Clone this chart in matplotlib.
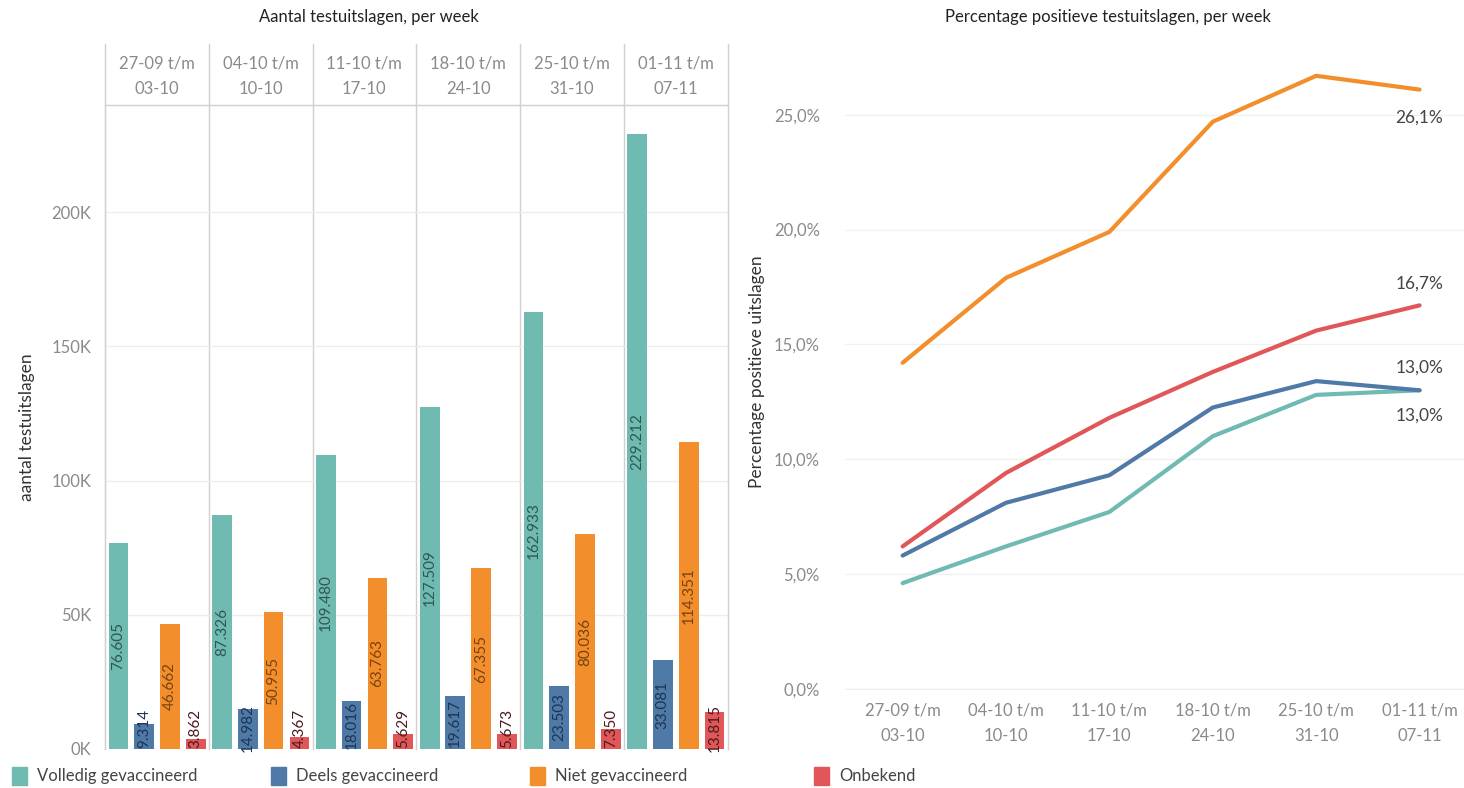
import numpy as np
import matplotlib.pyplot as plt
from matplotlib.patches import Rectangle

plt.rcParams['font.family'] = ['Lato', 'DejaVu Sans']

weeks = ['27-09 t/m\n03-10', '04-10 t/m\n10-10', '11-10 t/m\n17-10',
         '18-10 t/m\n24-10', '25-10 t/m\n31-10', '01-11 t/m\n07-11']
groups = ['Volledig gevaccineerd', 'Deels gevaccineerd', 'Niet gevaccineerd', 'Onbekend']
colors = ['#6fbab1', '#4f79a6', '#f28e2b', '#e15759']
text_colors = ['#2e5753', '#1d3553', '#7a4210', '#4a1c1c']

volledig = [76605, 87326, 109480, 127509, 162933, 229212]
deels = [9314, 14982, 18016, 19617, 23503, 33081]
niet = [46662, 50955, 63763, 67355, 80036, 114351]
onbekend = [3862, 4367, 5629, 5673, 7350, 13815]
counts = [volledig, deels, niet, onbekend]

pct_volledig = [4.6, 6.2, 7.7, 11.0, 12.8, 13.0]
pct_deels = [5.8, 8.1, 9.3, 12.25, 13.4, 13.0]
pct_niet = [14.2, 17.9, 19.9, 24.7, 26.7, 26.1]
pct_onbekend = [6.2, 9.4, 11.8, 13.8, 15.6, 16.7]
pcts = [pct_volledig, pct_deels, pct_niet, pct_onbekend]

fig = plt.figure(figsize=(14.64, 7.88), dpi=100)
tick_c = '#8a8a8a'

# ---------- staafdiagram ----------
ax = fig.add_axes([0.0717, 0.0495, 0.4253, 0.8175])
x = np.arange(len(weeks))
offsets = [-0.37, -0.125, 0.125, 0.375]
for k in range(4):
    ax.bar(x + offsets[k], counts[k], width=0.19, color=colors[k], zorder=3)
    for i, v in enumerate(counts[k]):
        s = f'{v:,}'.replace(',', '.')
        ax.text(x[i] + offsets[k], max(v / 2, 7800), s, rotation=90, ha='center',
                va='center', fontsize=11, color=text_colors[k], zorder=4)

ax.set_xlim(-0.5, 5.5)
ax.set_ylim(0, 240000)
ax.set_yticks([0, 50000, 100000, 150000, 200000])
ax.set_yticklabels(['0K', '50K', '100K', '150K', '200K'])
ax.tick_params(axis='y', length=0, colors=tick_c, labelsize=12, pad=10)
ax.set_xticks([])
ax.grid(axis='y', color='#ededed', lw=1, zorder=0)
for s in ['top', 'right', 'bottom']:
    ax.spines[s].set_visible(False)
ax.spines['left'].set_color('#d0d0d0')
ax.set_ylabel('aantal testuitslagen', fontsize=12.5, color='#333333', labelpad=12)

# weekkoppen en scheidingslijnen
for i in range(len(weeks) + 1):
    ax.plot([i - 0.5, i - 0.5], [0, 1.095], transform=ax.get_xaxis_transform(),
            color='#d0d0d0', lw=1, clip_on=False, zorder=1)
ax.plot([-0.5, 5.5], [1.0, 1.0], transform=ax.get_xaxis_transform(),
        color='#d0d0d0', lw=1, clip_on=False)
for i, w in enumerate(weeks):
    ax.text(i, 1.044, w, transform=ax.get_xaxis_transform(), ha='center', va='center',
            fontsize=12, color=tick_c, linespacing=1.75)
fig.text(0.252, 0.978, 'Aantal testuitslagen, per week', ha='center', va='center',
         fontsize=12, color='#222222')

# ---------- lijndiagram ----------
ax2 = fig.add_axes([0.577, 0.126, 0.423, 0.804])
for k in [0, 1, 3, 2]:
    ax2.plot(x, pcts[k], color=colors[k], lw=3, solid_capstyle='round', zorder=3)
ax2.set_xlim(-0.56, 5.43)
ax2.set_ylim(0, 27.6)
ax2.set_yticks([0, 5, 10, 15, 20, 25])
ax2.set_yticklabels([f'{v},0%' for v in [0, 5, 10, 15, 20, 25]])
ax2.tick_params(axis='y', length=0, colors=tick_c, labelsize=12, pad=18)
ax2.set_xticks(x)
ax2.set_xticklabels(weeks, linespacing=1.75)
ax2.tick_params(axis='x', length=0, colors=tick_c, labelsize=12, pad=10)
ax2.grid(axis='y', color='#f0f0f0', lw=1, zorder=0)
for s in ['top', 'right', 'left']:
    ax2.spines[s].set_visible(False)
ax2.spines['bottom'].set_color('#eeeeee')
ax2.set_ylabel('Percentage positieve uitslagen', fontsize=12.5, color='#333333', labelpad=6)
fig.text(0.757, 0.978, 'Percentage positieve testuitslagen, per week', ha='center',
         va='center', fontsize=12, color='#222222')

end_offsets = [(0, -18), (0, 16), (0, -20), (0, 16)]
for k in range(4):
    v = pcts[k][-1]
    ax2.annotate(f'{v:.1f}%'.replace('.', ','), (x[-1], v), xytext=end_offsets[k],
                 textcoords='offset points', ha='center', va='center',
                 fontsize=12.5, color='#444444')

# ---------- legenda ----------
leg_x = [0.008, 0.185, 0.362, 0.556]
for k in range(4):
    fig.patches.append(Rectangle((leg_x[k], 0.004), 0.0105, 0.023, color=colors[k],
                                 transform=fig.transFigure, figure=fig))
    fig.text(leg_x[k] + 0.017, 0.015, groups[k], fontsize=12, color='#444444',
             va='center')

fig.savefig('out.png', dpi=100)
